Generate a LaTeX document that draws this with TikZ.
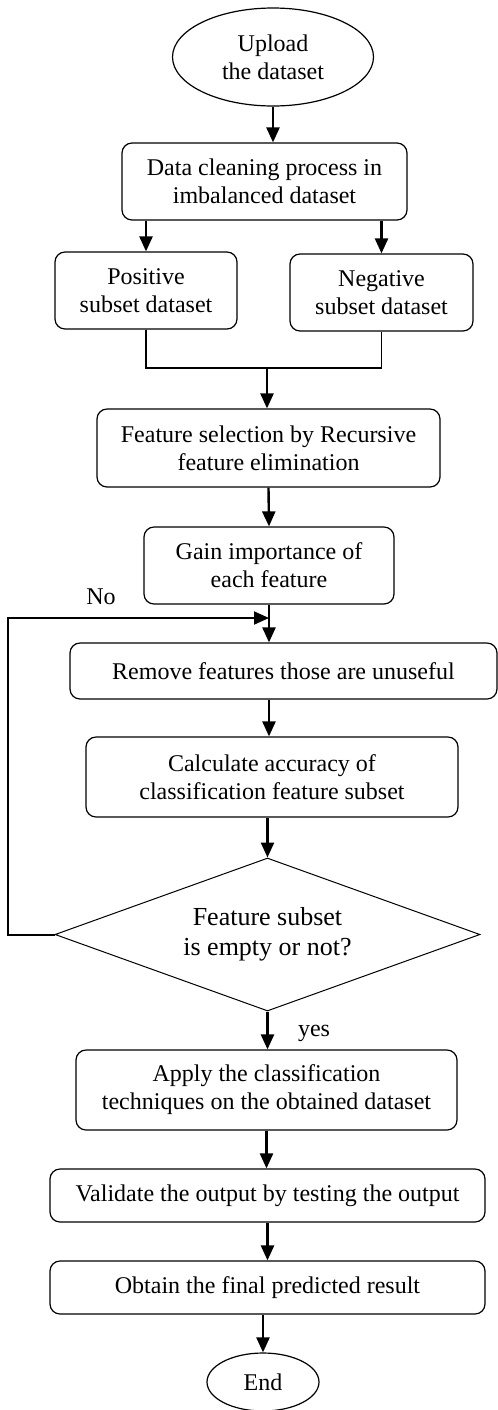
\documentclass[tikz,border=0pt]{standalone}
\usepackage{fontspec}
\setmainfont{Liberation Serif}
\usetikzlibrary{shapes.geometric,arrows.meta}
\begin{document}
\begin{tikzpicture}[x=0.5pt,y=-0.5pt,
  every node/.style={font=\fontsize{12}{14}\selectfont,align=center,inner sep=0pt},
  box/.style={draw,line width=0.6pt,rounded corners=5pt},
  term/.style={draw,ellipse,line width=0.6pt},
  arr/.style={line width=1.2pt,-{Triangle[width=6.5pt,length=7.5pt]}}]
\useasboundingbox (0,0) rectangle (498,1410);
\node[term,minimum width=100.5pt,minimum height=49pt] (up) at (273,57) {Upload\\the dataset};
\node[box,minimum width=142.5pt,minimum height=38.5pt] (clean) at (264.5,181.5) {Data cleaning process in\\imbalanced dataset};
\node[box,minimum width=91pt,minimum height=38.5pt] (pos) at (146,290.5) {Positive\\subset dataset};
\node[box,minimum width=91.5pt,minimum height=38.5pt] (neg) at (381.5,292.5) {Negative\\subset dataset};
\node[box,minimum width=171.5pt,minimum height=39pt] (sel) at (268.5,448) {Feature selection by Recursive\\feature elimination};
\node[box,minimum width=125pt,minimum height=38.5pt] (gain) at (269,565.5) {Gain importance of\\each feature};
\node[box,minimum width=213.5pt,minimum height=28pt] (rem) at (283.5,671) {Remove features those are unuseful};
\node[box,minimum width=186pt,minimum height=40pt] (calc) at (272,777) {Calculate accuracy of\\classification feature subset};
\node[draw,diamond,shape aspect=2.78,line width=0.5pt,minimum width=212.5pt,minimum height=76.5pt,font=\fontsize{13}{15}\selectfont] (dec) at (267.5,934.5) {Feature subset\\is empty or not?};
\node[box,minimum width=190.5pt,minimum height=40pt] (apply) at (266.5,1090) {Apply the classification\\techniques on the obtained dataset};
\node[box,minimum width=217.5pt,minimum height=26.5pt] (val) at (267.5,1195.5) {Validate the output by testing the output};
\node[box,minimum width=217.5pt,minimum height=26.5pt] (obt) at (267.5,1287.5) {Obtain the final predicted result};
\node[term,minimum width=56pt,minimum height=29pt] (fin) at (263,1382) {End};
\node (no) at (101,597) {No};
\node (yes) at (314,1033) {yes};
\coordinate (mrg) at (267,368);
\coordinate (lp) at (8,618);
\draw[arr] (up.south) -- (up.south |- clean.north);
\draw[arr] (clean.south -| pos.north) -- (pos.north);
\draw[arr] (clean.south -| neg.north) -- (neg.north);
\draw[line width=0.9pt] (pos.south) |- (mrg) -| (neg.south);
\draw[arr] (mrg) -- (mrg |- sel.north);
\draw[arr] (sel.south) -- (gain.north);
\draw[arr] (gain.south) -- (gain.south |- rem.north);
\draw[arr] (gain.south |- rem.south) -- (gain.south |- calc.north);
\draw[arr] (dec.north |- calc.south) -- (dec.north);
\draw[arr,line width=1pt] (dec.west) -| (lp) -- (gain.south |- lp);
\draw[arr] (dec.south) -- (dec.south |- apply.north);
\draw[arr] (apply.south) -- (apply.south |- val.north);
\draw[arr] (val.south) -- (obt.north);
\draw[arr] (fin.north |- obt.south) -- (fin.north);
\end{tikzpicture}
\end{document}
